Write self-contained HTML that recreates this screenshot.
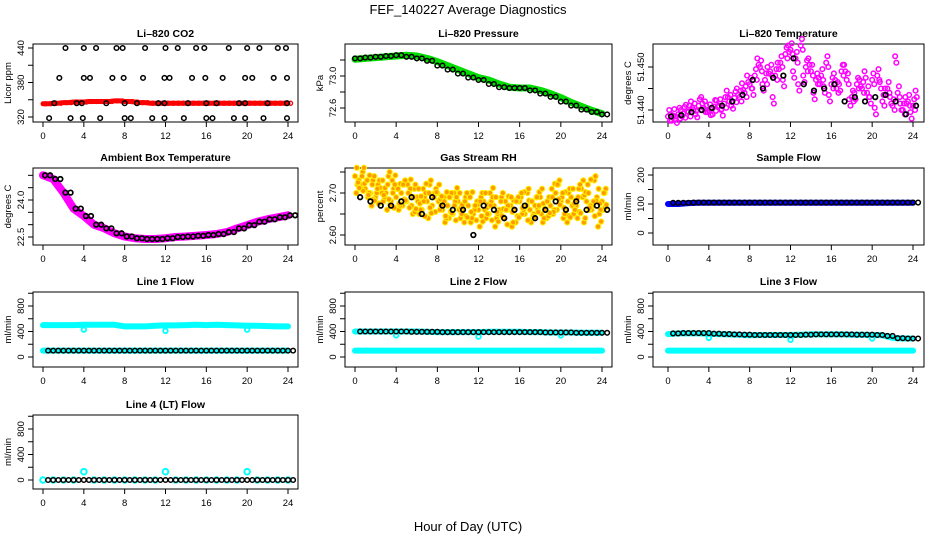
<!DOCTYPE html>
<html><head><meta charset="utf-8"><style>
html,body{margin:0;padding:0;background:#fff;}
svg{display:block;font-family:"Liberation Sans",Arial,sans-serif;}
</style></head><body>
<svg id="chart" width="936" height="540" viewBox="0 0 936 540" xmlns="http://www.w3.org/2000/svg">
<text x="468" y="14" text-anchor="middle" font-size="13">FEF_140227  Average Diagnostics</text>
<text x="468" y="531" text-anchor="middle" font-size="13">Hour of Day (UTC)</text>
</svg>
<script>
// ---- data ----
const xTicks = [0,4,8,12,16,20,24];
const hours = [0,1,2,3,4,5,6,7,8,9,10,11,12,13,14,15,16,17,18,19,20,21,22,23,24];
const halfHours = [0,0.5,1,1.5,2,2.5,3,3.5,4,4.5,5,5.5,6,6.5,7,7.5,8,8.5,9,9.5,10,10.5,11,11.5,12,12.5,13,13.5,14,14.5,15,15.5,16,16.5,17,17.5,18,18.5,19,19.5,20,20.5,21,21.5,22,22.5,23,23.5,24];

// CO2
const co2Red = [343,343,344,344,345,345,346,346,346,347,347,347,347,347,348,348,347,347,346,345,345,344,344,344,344,344,344,344,344,344,344,344,344,344,344,344,344,344,344,344,344,344,344,344,344,344,344,344,344];
const co2BlackT = [2.2,4,5.2,7.2,7.8,10,12,13.2,15,15.8,18.2,20,21.2,23,23.8, 1.6,4,4.6,6.8,7.9,9.8,11.9,12.4,14.6,15.9,17.6,19.8,20.5,22.6,23.9, 1.1,3.3,3.8,6.2,8,9.2,11.3,11.9,14.2,16,17,19.2,19.8,22,23.9, 0.6,2.7,3.9,5.6,8,8.6,10.7,11.9,13.8,16,16.6,18.7,19.8,21.6,23.9];
const co2BlackV = [440,440,440,440,440,440,440,440,440,440,440,440,440,440,440, 388,388,388,388,388,388,388,388,388,388,388,388,388,388,388, 344,344,344,344,344,344,344,344,344,344,344,344,344,344,344, 318,318,318,318,318,318,318,318,318,318,318,318,318,318,318];

// Pressure
const presGreen = [73.21,73.22,73.23,73.24,73.25,73.26,73.25,73.22,73.18,73.13,73.08,73.03,72.98,72.95,72.90,72.86,72.85,72.85,72.82,72.78,72.73,72.67,72.62,72.57,72.53];
const presBlack = [73.22,73.23,73.24,73.25,73.26,73.24,73.22,73.19,73.13,73.08,73.03,72.98,72.95,72.90,72.86,72.85,72.85,72.82,72.78,72.74,72.68,72.63,72.58,72.55,72.52];

// Li-820 temperature (thousandths above 51.4)
const tempMagA = [38.5,38.7,39,39.2,39.5,40,41,40.5,39.8,40.8,41,41.5,42,42.8,43,44,46,48,50,47,49,48,51,53,54,52,55,50,49,47,48,51,46,45,49,47,43,46,45,44,47,48,42,45,41,44,40,42,41];
const tempMagB = [39,38.5,40,41.2,42,39.8,43,41,40.5,42.2,40.2,44.5,41.8,45,46.2,48,45,52,46,50,43,51,47,55,49,46,48,52,44,47.5,45.5,43.5,48.5,46,50.5,42.5,44,47,49,43,40.5,46.5,45,43,52.5,41.5,43,39.5,44.5];
const tempBlack = [38.5,38.8,39.5,40,40.5,41,42,43.5,47,45,47.5,48,52,46,44.5,45,46,42,43,42,43,43.5,42,39,41];

// Ambient box temperature
const ambBlack = [25.0,24.85,24.3,23.65,23.35,23.0,22.85,22.65,22.52,22.45,22.42,22.42,22.45,22.50,22.52,22.55,22.58,22.62,22.7,22.85,22.98,23.12,23.22,23.3,23.38];

// Gas stream RH
const rhA = [2.74,2.72,2.71,2.70,2.69,2.71,2.70,2.68,2.69,2.70,2.68,2.67,2.69,2.66,2.68,2.67,2.70,2.66,2.67,2.65,2.68,2.66,2.67,2.65,2.66,2.68,2.65,2.67,2.66,2.64,2.67,2.66,2.68,2.65,2.66,2.67,2.69,2.66,2.67,2.70,2.68,2.66,2.69,2.67,2.71,2.68,2.66,2.69,2.68];
const rhB = [2.72,2.75,2.69,2.73,2.72,2.68,2.74,2.71,2.66,2.72,2.70,2.71,2.65,2.69,2.72,2.70,2.66,2.63,2.69,2.68,2.64,2.69,2.63,2.67,2.69,2.64,2.68,2.64,2.69,2.66,2.62,2.68,2.65,2.70,2.64,2.66,2.63,2.68,2.65,2.72,2.64,2.70,2.65,2.71,2.63,2.66,2.73,2.65,2.70];
const rhC = [2.70,2.71,2.73,2.67,2.70,2.70,2.66,2.73,2.71,2.67,2.72,2.65,2.68,2.71,2.64,2.69,2.68,2.69,2.64,2.70,2.66,2.63,2.69,2.66,2.62,2.66,2.70,2.62,2.65,2.68,2.67,2.63,2.69,2.67,2.63,2.69,2.65,2.64,2.71,2.66,2.69,2.63,2.67,2.64,2.69,2.72,2.67,2.62,2.66];
const rhBlack = [2.69,2.68,2.67,2.67,2.68,2.69,2.65,2.69,2.67,2.66,2.66,2.60,2.67,2.66,2.64,2.66,2.67,2.64,2.66,2.68,2.66,2.68,2.66,2.67,2.66];

// Sample flow
const sampleBlue = [100,100,103,104,104,104,104,104,104,104,104,104,104,104,104,104,104,104,104,104,104,104,104,104,104];
const sampleBlack = [104,104,105,105,105,105,105,105,105,105,105,105,105,105,105,105,105,105,105,105,105,105,105,105,105];

// Line flows
const dipHours = [4,12,20];
const line1Cyan = [500,500,500,500,505,505,505,505,480,480,480,490,495,495,500,505,500,505,500,495,490,490,485,480,480];
const line1Dip = [430,410,430];
const line1Low = [100,100,100,100,100,100,100,100,100,100,100,100,100,100,100,100,100,100,100,100,100,100,100,100,100];
const line1Black = [100,100,100,100,100,100,100,100,100,100,100,100,100,100,100,100,100,100,100,100,100,100,100,100,100];
const line2Cyan = [400,400,400,400,400,400,400,395,390,390,390,390,390,395,395,395,395,390,390,385,385,385,380,380,380];
const line2Dip = [340,320,340];
const line2Low = [100,100,100,100,100,100,100,100,100,100,100,100,100,100,100,100,100,100,100,100,100,100,100,100,100];
const line2Black = [400,400,400,400,400,395,395,395,390,390,390,390,390,390,390,390,390,390,385,385,385,380,380,380,380];
const line3Cyan = [360,370,370,370,365,360,355,350,340,345,345,345,345,350,355,355,355,355,350,350,345,340,300,290,290];
const line3Dip = [300,270,290];
const line3Low = [100,100,100,100,100,100,100,100,100,100,100,100,100,100,100,100,100,100,100,100,100,100,100,100,100];
const line3Black = [370,375,375,375,365,360,355,350,345,345,345,345,345,350,355,355,355,355,350,350,345,330,295,290,290];
const line4Cyan = [0,0,0,0,130,0,0,0,0,0,0,0,130,0,0,0,0,0,0,0,130,0,0,0,0];
const line4Black = [0,0,0,0,0,0,0,0,0,0,0,0,0,0,0,0,0,0,0,0,0,0,0,0,0];

const yTicksCO2 = [320,350,380,410,440], yLabCO2 = ["320","","380","","440"];
const yTicksPres = [72.6,72.8,73.0,73.2], yLabPres = ["72.6","","73.0",""];
const yTicksTemp = [51.440,51.445,51.450], yLabTemp = ["51.440","","51.450"];
const yTicksAmb = [22.5,23.0,23.5,24.0,24.5,25.0], yLabAmb = ["22.5","","","24.0","",""];
const yTicksRH = [2.60,2.65,2.70,2.75], yLabRH = ["2.60","","2.70",""];
const yTicksSample = [0,50,100,150,200], yLabSample = ["0","","100","","200"];
const yTicksFlow = [0,200,400,600,800,1000], yLabFlow = ["0","","400","","800",""];

// ---- drawing ----
const NS = "http://www.w3.org/2000/svg";
const svg = document.getElementById('chart');
function mk(tag, attrs, parent){ const e=document.createElementNS(NS,tag); for(const k in attrs) e.setAttribute(k,attrs[k]); (parent||svg).appendChild(e); return e; }

const cols = [{l:33,r:298,x0:43,x24:288},{l:345,r:612,x0:355,x24:602},{l:653,r:924,x0:668,x24:913}];
const rows = [{t:44,b:122},{t:168,b:245},{t:292,b:367},{t:415,b:489}];

function panel(name, title, ytitle, c, r, v1, p1, v2, p2, ticks, labs){
  const col=cols[c], row=rows[r];
  const g = mk('g',{});
  
  
  const xs = h => col.x0 + (h/24)*(col.x24-col.x0);
  const ys = v => p1 + (v-v1)*(p2-p1)/(v2-v1);
  const box = mk('rect',{x:col.l,y:row.t,width:col.r-col.l,height:row.b-row.t,fill:'none',stroke:'#000','stroke-width':1},g);
  
  
  const tt = mk('text',{x:(col.l+col.r)/2,y:row.t-7,'text-anchor':'middle','font-size':10.5,'font-weight':'bold'},g);
  tt.textContent = title;
  
  
  const yt = mk('text',{transform:`translate(${col.l-22},${(row.t+row.b)/2}) rotate(-90)`,'text-anchor':'middle','font-size':9.5},g);
  yt.textContent = ytitle;
  
  
  xTicks.forEach(h=>{
    const x=xs(h);
    mk('line',{x1:x,x2:x,y1:row.b,y2:row.b+5,stroke:'#000'},g);
    const t=mk('text',{x:x,y:row.b+17,'text-anchor':'middle','font-size':9.5},g);
    t.textContent=h;
    
    
  });
  ticks.forEach((v,i)=>{
    const y=ys(v);
    mk('line',{x1:col.l-5,x2:col.l,y1:y,y2:y,stroke:'#000'},g);
    if(labs[i]){
      const t=mk('text',{transform:`translate(${col.l-9},${y}) rotate(-90)`,'text-anchor':'middle','font-size':9.5},g);
      t.textContent=labs[i];
      
      
    }
  });
  return {g,xs,ys};
}
function band(P, xsArr, vals, color, w, name){
  const pts = vals.map((v,i)=>P.xs(xsArr[i]).toFixed(1)+','+P.ys(v).toFixed(1)).join(' ');
  const pl = mk('polyline',{points:pts,fill:'none',stroke:color,'stroke-width':w,'stroke-linejoin':'round','stroke-linecap':'round'},P.g);
  
  
}
function pts(P, xsArr, vals, stroke, fill, r, sw, name, off){
  vals.forEach((v,i)=>{
    const c = mk('circle',{cx:P.xs(xsArr[i]+(off||0)),cy:P.ys(v),r:r,fill:fill,stroke:stroke,'stroke-width':sw},P.g);
    
    
  });
}
const R=2.3, SW=1.5;

// CO2
let P = panel('co2','Li\u2013820 CO2','Licor ppm',0,0,440,48,320,117,yTicksCO2,yLabCO2);
band(P,halfHours,co2Red,'#ff0000',5,'co2-red-series');
pts(P,halfHours,co2Red,'#ff0000','none',2,1.3,'co2-red-point',0.25);
pts(P,co2BlackT,co2BlackV,'#000','none',R,SW,'co2-black-point');

// Pressure
P = panel('pressure','Li\u2013820 Pressure','kPa',1,0,73.0,76,72.6,108,yTicksPres,yLabPres);
band(P,hours,presGreen,'#00dd00',7,'pressure-green-series');
pts(P,hours,presBlack,'#000','none',R,SW,'pressure-black-point');
pts(P,hours,presBlack,'#000','none',R,SW,'pressure-black-point',0.5);

// Temperature
P = panel('temperature','Li\u2013820 Temperature','degrees C',2,0,51.450,67,51.440,110,yTicksTemp,yLabTemp);
[[tempMagA,0,0],[tempMagB,0.25,0],[tempMagA,0.12,1.5],[tempMagB,0.37,-1.5],[tempMagA,0.2,-1]].forEach(([arr,o,d])=>
  pts(P,halfHours,arr.map(v=>51.4+(v+d)/1000),'#ff00ff','none',2.3,1.5,'temperature-magenta-point',o));
pts(P,hours,tempBlack.map(v=>51.4+v/1000),'#000','none',R,1.7,'temperature-black-point',0.3);

// Ambient
P = panel('ambient','Ambient Box Temperature','degrees C',0,1,24.0,200,22.5,237,yTicksAmb,yLabAmb);
band(P,hours,ambBlack,'#ff00ff',8,'ambient-magenta-series');
pts(P,hours,ambBlack,'#000','none',R,1.7,'ambient-black-point',0.2);
pts(P,hours,ambBlack,'#000','none',R,1.7,'ambient-black-point',0.7);

// RH
P = panel('rh','Gas Stream RH','percent',1,1,2.70,193,2.60,235,yTicksRH,yLabRH);
[[rhA,0,0],[rhB,0.25,0],[rhC,0.12,0],[rhB,0.37,0.01],[rhA,0.3,-0.015],[rhC,0.42,0.012],[rhA,0.18,0.02]].forEach(([arr,o,d])=>
  pts(P,halfHours,arr.map(v=>v+d),'#ffee00','#ff9900',2.6,1.1,'rh-orange-point',o));
pts(P,hours,rhBlack,'#000','none',R,1.7,'rh-black-point',0.5);

// Sample flow
P = panel('sample-flow','Sample Flow','ml/min',2,1,200,175,0,233,yTicksSample,yLabSample);
band(P,hours,sampleBlue,'#0000ff',6,'sample-blue-series');
pts(P,hours,sampleBlack,'#000','none',R,SW,'sample-black-point',0.5);
pts(P,hours.slice(0,24),sampleBlack.slice(0,24),'#000','none',R,SW,'sample-black-point',1);

// Line flows
function flowPanel(name,title,c,r,cyan,dip,low,black){
  const P = panel(name,title,'ml/min',c,r,0,357,400,331.5,yTicksFlow,yLabFlow);
  band(P,hours,cyan,'#00ffff',6,name+'-cyan-series');
  pts(P,dipHours,dip,'#00ffff','none',2.3,1.8,name+'-cyan-dip-point');
  band(P,hours,low,'#00ffff',6,name+'-cyan-low-series');
  pts(P,hours,black,'#000','none',R,SW,name+'-black-point',0.5);
  pts(P,hours.slice(0,24),black.slice(0,24),'#000','none',R,SW,name+'-black-point',1);
  return P;
}
flowPanel('line1-flow','Line 1 Flow',0,2,line1Cyan,line1Dip,line1Low,line1Black);
flowPanel('line2-flow','Line 2 Flow',1,2,line2Cyan,line2Dip,line2Low,line2Black);
flowPanel('line3-flow','Line 3 Flow',2,2,line3Cyan,line3Dip,line3Low,line3Black);
P = panel('line4-flow','Line 4 (LT) Flow','ml/min',0,3,0,480,400,454.5,yTicksFlow,yLabFlow);
pts(P,hours,line4Cyan,'#00ffff','none',2.8,2,'line4-cyan-point');
pts(P,hours,line4Black,'#000','none',R,SW,'line4-black-point',0.5);
pts(P,hours.slice(0,24),line4Black.slice(0,24),'#000','none',R,SW,'line4-black-point',1);
</script>
</body></html>
